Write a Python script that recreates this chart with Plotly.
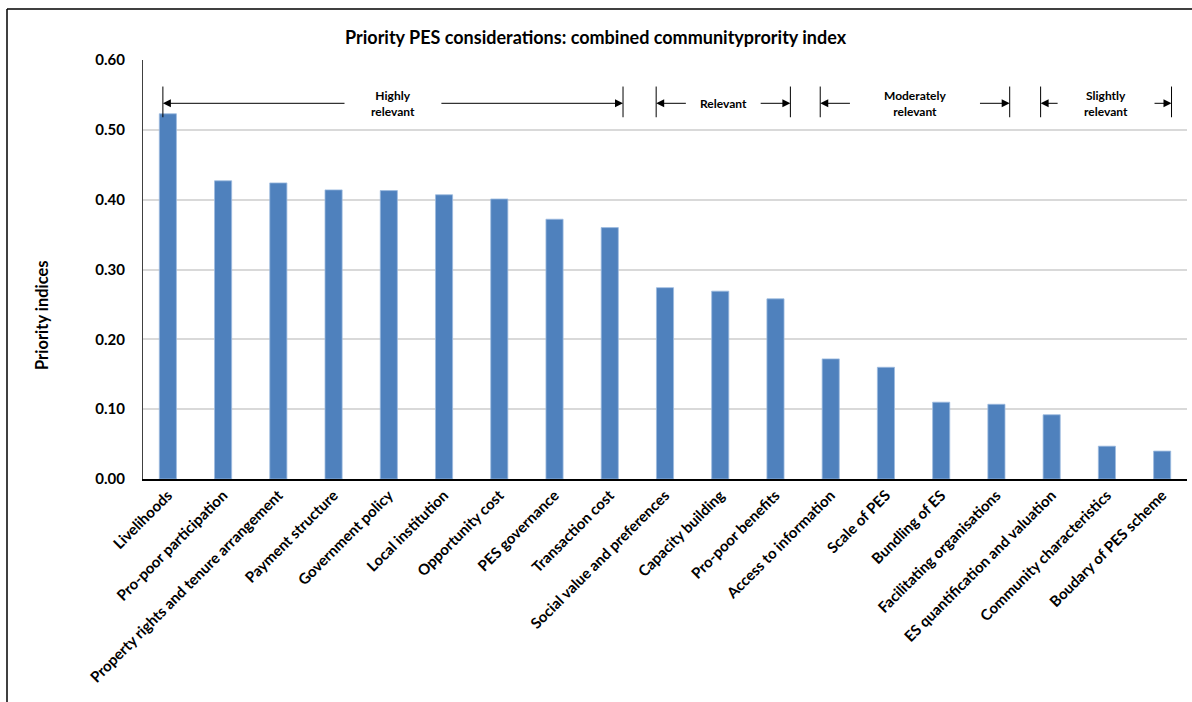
import plotly.graph_objects as go

categories = [
    "Livelihoods", "Pro-poor participation", "Property rights and tenure arrangement",
    "Payment structure", "Government policy", "Local institution", "Opportunity cost",
    "PES governance", "Transaction cost", "Social value and preferences",
    "Capacity building", "Pro-poor benefits", "Access to information", "Scale of PES",
    "Bundling of ES", "Facilitating organisations", "ES quantification and valuation",
    "Community characteristics", "Boudary of PES scheme",
]
values = [0.523, 0.427, 0.424, 0.414, 0.413, 0.407, 0.401, 0.372, 0.360,
          0.274, 0.269, 0.258, 0.172, 0.160, 0.110, 0.107, 0.092, 0.047, 0.040]

# relevance groups: (label, start index, end index) in category units
group_labels = ["Highly<br>relevant", "Relevant", "Moderately<br>relevant", "Slightly<br>relevant"]
group_start = [-0.09, 8.84, 11.81, 15.80]
group_end = [8.24, 11.27, 15.24, 18.17]
group_gap = [0.85, 0.65, 1.15, 0.85]

y_ticks = [0.0, 0.1, 0.2, 0.3, 0.4, 0.5, 0.6]

FONT = "Lato"
W, H = 1192, 702
L, R, T, B = 143, 5, 60, 223
pw = W - L - R
ph = H - T - B

fig = go.Figure()
fig.add_trace(go.Bar(
    x=list(range(len(categories))), y=values,
    marker=dict(color="#4f81bd", line=dict(color="#9dbbe0", width=0.8)),
    width=0.31,
))

shapes = []
annotations = []
y_lo, y_hi, y_arrow = 0.518, 0.562, 0.538
for lab, s, e, gap in zip(group_labels, group_start, group_end, group_gap):
    shapes.append(dict(type="line", xref="x", yref="y", x0=s, x1=s, y0=y_lo, y1=y_hi,
                       line=dict(color="black", width=1)))
    shapes.append(dict(type="line", xref="x", yref="y", x0=e, x1=e, y0=y_lo, y1=y_hi,
                       line=dict(color="black", width=1)))
    mid = (s + e) / 2
    annotations.append(dict(x=s, y=y_arrow, ax=mid - gap, ay=y_arrow, xref="x", yref="y",
                            axref="x", ayref="y", showarrow=True, arrowhead=2, arrowsize=1.6,
                            arrowwidth=1, arrowcolor="black", text=""))
    annotations.append(dict(x=e, y=y_arrow, ax=mid + gap, ay=y_arrow, xref="x", yref="y",
                            axref="x", ayref="y", showarrow=True, arrowhead=2, arrowsize=1.6,
                            arrowwidth=1, arrowcolor="black", text=""))
    annotations.append(dict(x=mid, y=y_arrow, xref="x", yref="y", text="<b>%s</b>" % lab,
                            showarrow=False,
                            font=dict(family=FONT, size=12, color="black"),
                            yanchor="middle", xanchor="center"))

# outer frame (top and left)
fx0 = (7 - L) / pw
fy1 = (H - B - 9) / ph
shapes.append(dict(type="line", xref="paper", yref="paper", x0=fx0, x1=(W + 5 - L) / pw,
                   y0=fy1, y1=fy1, line=dict(color="black", width=1.5)))
shapes.append(dict(type="line", xref="paper", yref="paper", x0=fx0, x1=fx0,
                   y0=fy1, y1=-(B + 5) / ph, line=dict(color="black", width=1.5)))

annotations.append(dict(text="<b>Priority PES considerations: combined communityprority index</b>",
                        xref="paper", yref="paper", x=(596 - L) / pw, y=(H - B - 37) / ph,
                        showarrow=False, font=dict(family=FONT, size=18, color="black"),
                        xanchor="center", yanchor="middle"))
annotations.append(dict(text="<b>Priority indices</b>", xref="paper", yref="paper",
                        x=(42 - L) / pw, y=(H - B - 315) / ph, textangle=-90,
                        showarrow=False, font=dict(family=FONT, size=16.5, color="black"),
                        xanchor="center", yanchor="middle"))

fig.update_layout(
    width=W, height=H,
    margin=dict(l=L, r=R, t=T, b=B, autoexpand=False),
    paper_bgcolor="white", plot_bgcolor="white",
    showlegend=False,
    shapes=shapes, annotations=annotations,
    bargap=0.69,
)
fig.update_xaxes(
    range=[-0.45, len(categories) - 0.55],
    tickmode="array", tickvals=list(range(len(categories))),
    ticktext=["<b>%s</b>" % c for c in categories],
    tickangle=-45, tickfont=dict(family=FONT, size=15, color="black"),
    showline=True, linecolor="black", linewidth=1.5, ticks="", showgrid=False,
)
fig.update_yaxes(
    range=[0, 0.6], tickmode="array", tickvals=y_ticks,
    ticktext=["<b>%.2f</b>" % v for v in y_ticks],
    tickfont=dict(family=FONT, size=15, color="black"),
    showgrid=True, gridcolor="#d9d9d9", gridwidth=1.5,
    showline=True, linecolor="#404040", linewidth=1, ticks="", ticklen=0,
    zeroline=False, ticklabelstandoff=14,
)

fig.write_html("out.html")
